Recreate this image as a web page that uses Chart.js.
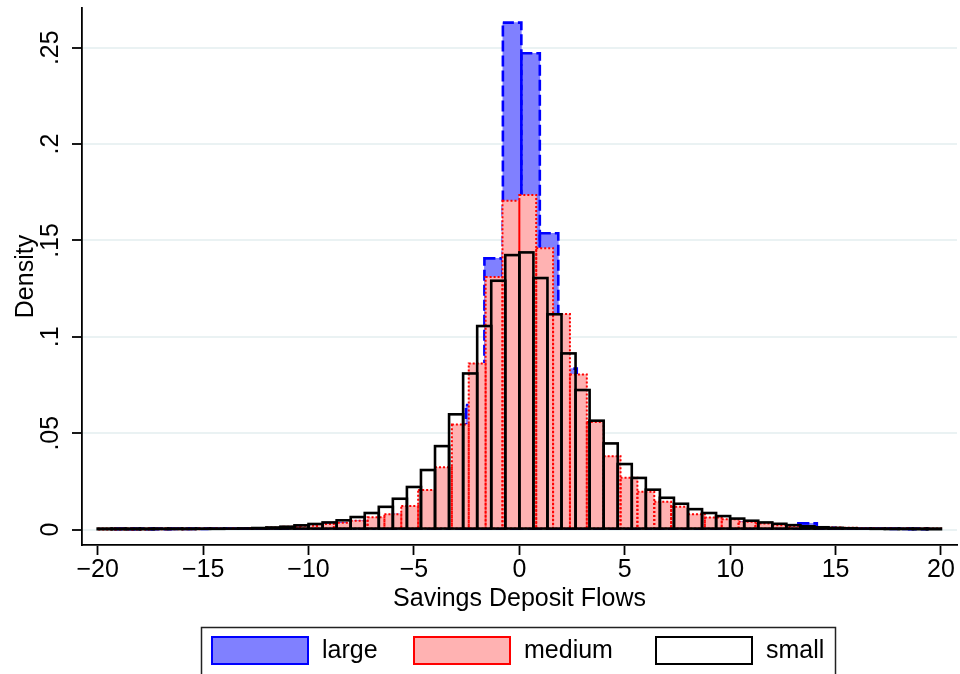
<!DOCTYPE html>
<html>
<head>
<meta charset="utf-8">
<script src="https://cdn.jsdelivr.net/npm/chart.js@4.4.1/dist/chart.umd.min.js"></script>
<style>
  html, body { margin: 0; padding: 0; background: #fff; }
</style>
</head>
<body>
<canvas id="chart" width="960" height="674"></canvas>
<script>
// densidades por intervalo, cada grupo con sus propios intervalos
const smallInicio = -20;
const smallAncho = 2 / 3;
const smallDensidad = [
  0.0002, 0.0002, 0.0002, 0.0002, 0.0003, 0.0003, 0.0003, 0.0004, 0.0004, 0.0005,
  0.0006, 0.0008, 0.0011, 0.0015, 0.0022, 0.0029, 0.0037, 0.0048, 0.0065, 0.0086,
  0.0118, 0.0160, 0.0221, 0.0309, 0.0433, 0.0598, 0.0810, 0.1056, 0.1291, 0.1424,
  0.1438, 0.1305, 0.1117, 0.0914, 0.0724, 0.0565, 0.0447, 0.0340, 0.0268, 0.0207,
  0.0165, 0.0134, 0.0106, 0.0086, 0.0070, 0.0057, 0.0046, 0.0037, 0.0030, 0.0023,
  0.0017, 0.0012, 0.0009, 0.0007, 0.0005, 0.0004, 0.0003, 0.0003, 0.0002, 0.0002
];

const mediumInicio = -20;
const mediumAncho = 0.8;
const mediumDensidad = [
  0.0001, 0.0001, 0.0001, 0.0002, 0.0002, 0.0002, 0.0003, 0.0004, 0.0005, 0.0008,
  0.0011, 0.0015, 0.0020, 0.0029, 0.0035, 0.0046, 0.0064, 0.0080, 0.0122, 0.0205,
  0.0323, 0.0545, 0.0862, 0.1310, 0.1706, 0.1736, 0.1460, 0.1118, 0.0805, 0.0558,
  0.0381, 0.0269, 0.0196, 0.0144, 0.0118, 0.0080, 0.0063, 0.0053, 0.0040, 0.0032,
  0.0023, 0.0018, 0.0014, 0.0011, 0.0009, 0.0007, 0.0006, 0.0005, 0.0004, 0.0003
];

const largeInicio = -19.177;
const largeAncho = 0.876;
const largeDensidad = [
  0.0002, 0.0002, 0.0002, 0.0003, 0.0003, 0.0004, 0.0005, 0.0006, 0.0007, 0.0010,
  0.0014, 0.0026, 0.0032, 0.0042, 0.0058, 0.0075, 0.0110, 0.0190, 0.0300, 0.0646,
  0.1407, 0.2630, 0.2471, 0.1537, 0.0835, 0.0500, 0.0330, 0.0240, 0.0170, 0.0120,
  0.0095, 0.0058, 0.0048, 0.0037, 0.0029, 0.0021, 0.0016, 0.0032, 0.0009, 0.0007,
  0.0005, 0.0004, 0.0003, 0.0002
];

const ticksX = [-20, -15, -10, -5, 0, 5, 10, 15, 20];
const ticksY = [0, 0.05, 0.1, 0.15, 0.2, 0.25];

const fuente = '"Liberation Sans", Arial, Helvetica, sans-serif';
Chart.defaults.font.family = fuente;
Chart.defaults.color = '#000';

function barras(inicio, ancho, densidad) {
  return densidad.map(function (d, i) {
    return { x: inicio + (i + 0.5) * ancho, y: d };
  });
}

function soloTicks(lista) {
  return function (eje) {
    eje.ticks = lista.map(function (v) { return { value: v }; });
  };
}

// ancho de barra en pixeles = ancho del intervalo en la escala x
function grosor(ancho) {
  return function (c) {
    let s = c.chart.scales.x;
    return Math.abs(s.getPixelForValue(ancho) - s.getPixelForValue(0));
  };
}

// contornos de barras: discontinuo, punteado o continuo segun el grupo
const contornos = {
  id: 'contornos',
  afterDatasetDraw(chart, args) {
    let ds = chart.data.datasets[args.index];
    let ctx = chart.ctx;
    let a = chart.chartArea;
    ctx.save();
    ctx.beginPath();
    ctx.rect(a.left, a.top, a.right - a.left, a.bottom - a.top);
    ctx.clip();
    ctx.strokeStyle = ds.edgeColor;
    ctx.lineWidth = ds.edgeWidth;
    ctx.setLineDash(ds.edgeDash);
    args.meta.data.forEach(function (bar) {
      let p = bar.getProps(['x', 'y', 'base', 'width'], true);
      ctx.strokeRect(p.x - p.width / 2, Math.min(p.y, p.base), p.width, Math.abs(p.base - p.y));
    });
    ctx.restore();
  }
};

// leyenda en recuadro debajo del eje
const leyenda = {
  id: 'leyenda',
  afterDraw(chart) {
    let ctx = chart.ctx;
    let posiciones = [212, 414, 656];
    ctx.save();
    ctx.fillStyle = '#fff';
    ctx.fillRect(201, 627, 634, 60);
    ctx.strokeStyle = '#222';
    ctx.lineWidth = 1.5;
    ctx.strokeRect(201.5, 627.5, 634, 60);
    chart.data.datasets.forEach(function (ds, i) {
      let x = posiciones[i];
      ctx.fillStyle = ds.swatch;
      ctx.fillRect(x, 637, 96, 27);
      ctx.strokeStyle = ds.edgeColor;
      ctx.lineWidth = 2;
      ctx.setLineDash([]);
      ctx.strokeRect(x, 637, 96, 27);
      ctx.fillStyle = '#000';
      ctx.font = '25px ' + fuente;
      ctx.textBaseline = 'middle';
      ctx.textAlign = 'left';
      ctx.fillText(ds.label, x + 110, 651);
    });
    ctx.restore();
  }
};

let ctx = document.getElementById('chart');

new Chart(ctx, {
  type: 'bar',
  data: {
    datasets: [
      {
        label: 'large',
        data: barras(largeInicio, largeAncho, largeDensidad),
        barThickness: grosor(largeAncho),
        order: 3,
        backgroundColor: 'rgb(128,128,255)',
        swatch: 'rgb(128,128,255)',
        edgeColor: 'rgb(0,0,255)',
        edgeWidth: 2.6,
        edgeDash: [11, 4]
      },
      {
        label: 'medium',
        data: barras(mediumInicio, mediumAncho, mediumDensidad),
        barThickness: grosor(mediumAncho),
        order: 2,
        backgroundColor: 'rgb(255,178,178)',
        swatch: 'rgb(255,178,178)',
        edgeColor: 'rgb(255,0,0)',
        edgeWidth: 2,
        edgeDash: [2, 2]
      },
      {
        label: 'small',
        data: barras(smallInicio, smallAncho, smallDensidad),
        barThickness: grosor(smallAncho),
        order: 1,
        backgroundColor: 'rgba(0,0,0,0)',
        swatch: '#fff',
        edgeColor: '#000',
        edgeWidth: 2.6,
        edgeDash: []
      }
    ]
  },
  options: {
    responsive: false,
    animation: false,
    events: [],
    datasets: {
      bar: { grouped: false, barPercentage: 1, categoryPercentage: 1, borderWidth: 0 }
    },
    layout: { padding: { top: 8, right: 3, bottom: 0, left: 0 } },
    scales: {
      x: {
        type: 'linear',
        min: -20.745,
        max: 20.76,
        offset: false,
        afterBuildTicks: soloTicks(ticksX),
        afterFit: function (s) {
          s.height = 129;
          s.paddingLeft = 0;
          s.paddingRight = 0;
        },
        grid: { offset: false, drawOnChartArea: false, tickLength: 10, tickColor: '#000', tickWidth: 1.8 },
        border: { color: '#000', width: 1.8 },
        ticks: {
          font: { size: 25 },
          padding: 0,
          maxRotation: 0,
          callback: function (v) { return v < 0 ? '\u2212' + Math.abs(v) : String(v); }
        },
        title: {
          display: true,
          text: 'Savings Deposit Flows',
          font: { size: 25 },
          padding: { top: 0, bottom: 60 }
        }
      },
      y: {
        type: 'linear',
        min: -0.008,
        max: 0.2706,
        afterBuildTicks: soloTicks(ticksY),
        afterFit: function (s) {
          s.width = 82;
          s.paddingTop = 0;
          s.paddingBottom = 0;
        },
        grid: { color: 'rgb(234,242,243)', lineWidth: 2, tickLength: 10, tickColor: '#000', tickWidth: 1.8 },
        border: { color: '#000', width: 1.8 },
        ticks: {
          font: { size: 25 },
          minRotation: 90,
          maxRotation: 90,
          crossAlign: 'center',
          padding: 4,
          callback: function (v) { return String(+v.toFixed(2)).replace(/^0\./, '.'); }
        },
        title: {
          display: true,
          text: 'Density',
          font: { size: 25 },
          padding: { top: 11, bottom: 0 }
        }
      }
    },
    plugins: {
      legend: { display: false },
      tooltip: { enabled: false }
    }
  },
  plugins: [contornos, leyenda]
});
</script>
</body>
</html>
